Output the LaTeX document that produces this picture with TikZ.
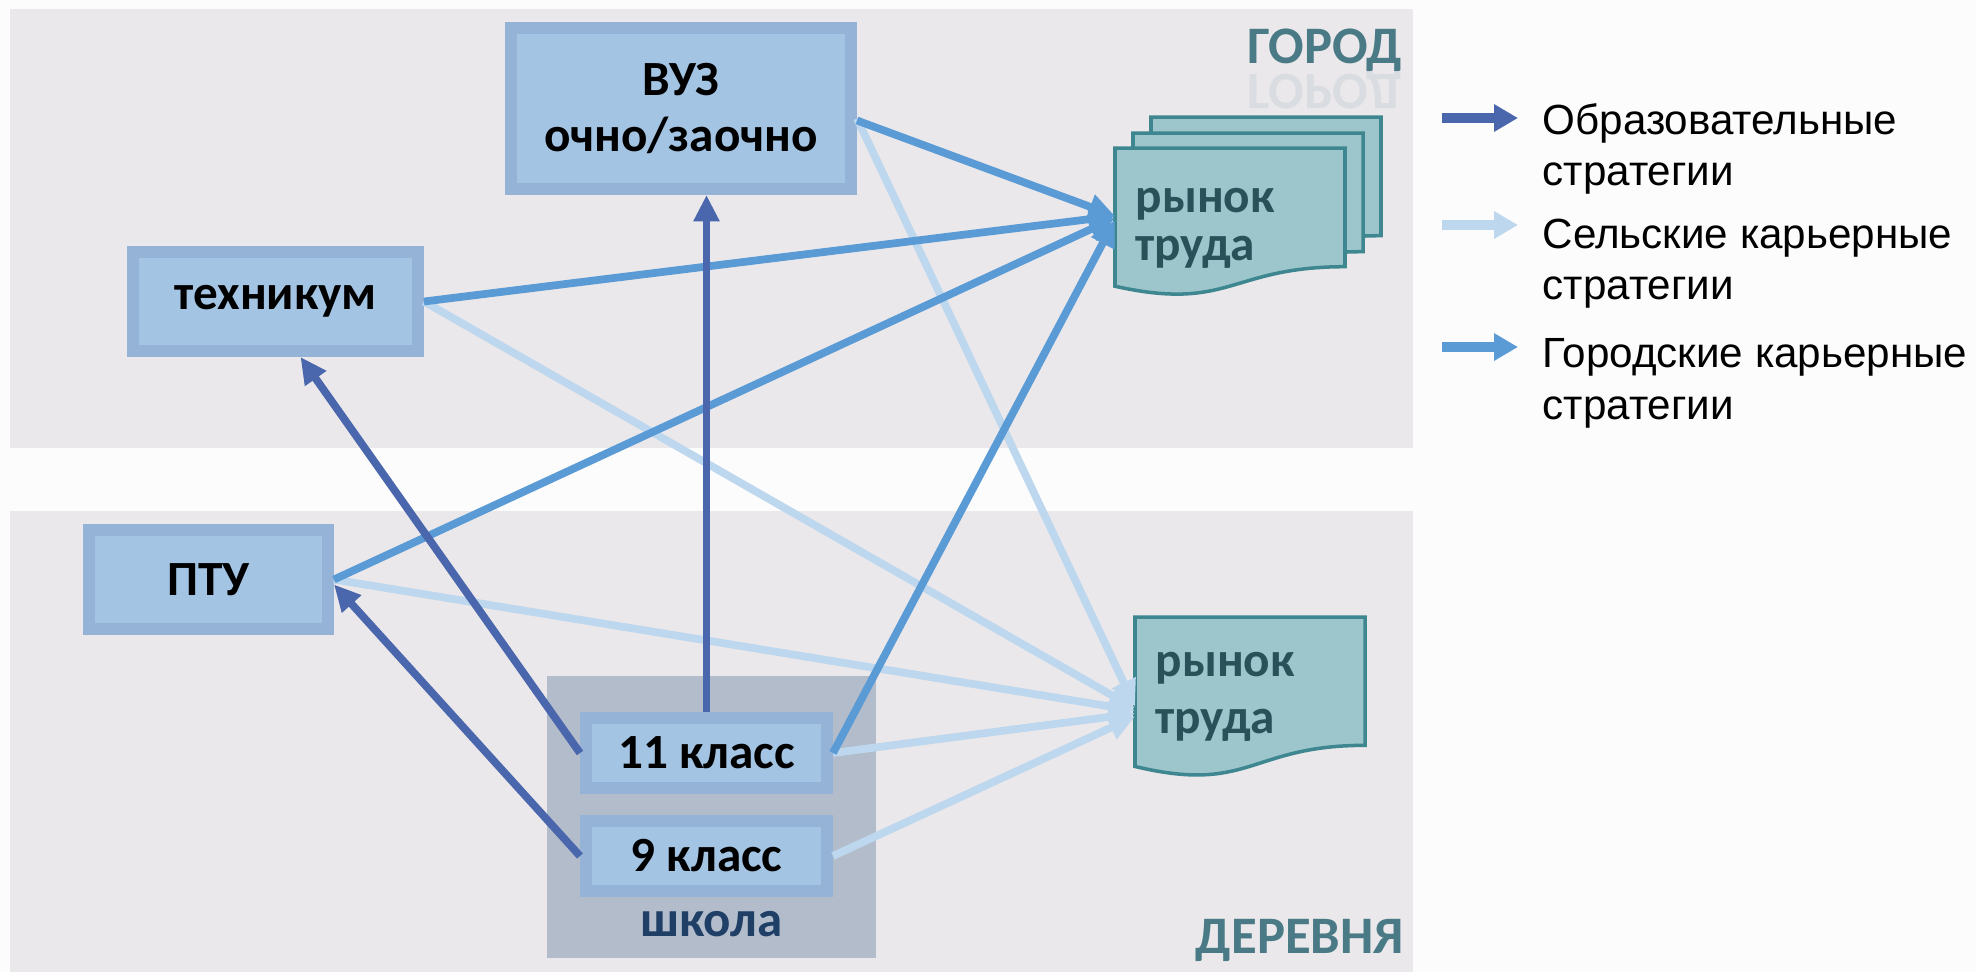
\documentclass[tikz,border=0pt]{standalone}
\usepackage{fontspec}
\setmainfont{Carlito}
\newfontfamily\legendfont{Liberation Sans}
\usetikzlibrary{arrows.meta, positioning, calc, shadows}
\definecolor{pagebg}{HTML}{FCFCFC}
\definecolor{zonebg}{HTML}{EAE8EB}
\definecolor{boxouter}{HTML}{95B3D7}
\definecolor{boxinner}{HTML}{A3C4E3}
\definecolor{boxshadow}{HTML}{8393A9}
\definecolor{schoolbg}{HTML}{B2BCCB}
\definecolor{schooltxt}{HTML}{1F3F66}
\definecolor{docfill}{HTML}{9DC6CC}
\definecolor{docedge}{HTML}{3E8790}
\definecolor{doctxt}{HTML}{28515A}
\definecolor{zonetxt}{HTML}{4A7A86}
\definecolor{eduline}{HTML}{4A66AC}
\definecolor{ruralline}{HTML}{BDD7EE}
\definecolor{cityline}{HTML}{5B9BD5}

\tikzset{
  stagebox/.style={draw=boxouter, line width=0.12cm, fill=boxinner, inner sep=0pt,
    font=\bfseries\fontsize{14}{16.2}\selectfont, align=center,
    drop shadow={shadow xshift=0.05cm, shadow yshift=-0.06cm, fill=boxshadow, opacity=1}},
  mkttext/.style={text=doctxt, align=left, inner xsep=0.2cm, inner ysep=0pt, anchor=west},
  zonelabel/.style={text=zonetxt, font=\bfseries\fontsize{15}{16}\selectfont, inner sep=0pt},
  legtext/.style={anchor=north west, inner sep=0pt, align=left, font=\legendfont\fontsize{12}{14.6}\selectfont},
  eduarrow/.style={draw=eduline, line width=2.2pt, -{Triangle[length=7.5pt, width=7pt]}},
  ruralarrow/.style={draw=ruralline, line width=2.2pt, -{Triangle[length=7.5pt, width=7pt]}},
  cityarrow/.style={draw=cityline, line width=2.2pt, -{Triangle[length=7.5pt, width=7pt]}},
  legarrow/.style={line width=2.8pt, -{Triangle[length=6.8pt, width=7.4pt]}}
}

% wavy sheet: top-left x, y, height
\newcommand{\docsheet}[3]{%
  \begin{scope}[shift={(#1,#2)}]
    \draw[docedge, fill=docfill, line width=1pt] (0,0) -- (2.3,0) -- (2.3,{-0.802*#3})
      .. controls (1.15,{-0.802*#3}) and (1.15,{-1.107*#3}) .. (0,{-0.934*#3}) -- cycle;
  \end{scope}}

\begin{document}
\begin{tikzpicture}
  \clip (0,0) rectangle (19.76,-9.72);
  \fill[pagebg] (0,0) rectangle (19.76,-9.72);

  % Zones
  \fill[zonebg] (0.10,-0.09) rectangle (14.13,-4.48);
  \fill[zonebg] (0.10,-5.11) rectangle (14.13,-9.72);
  \node[zonelabel] (city) at (13.25,-0.50) {ГОРОД};
  \node[zonelabel, yscale=-1, transform shape, opacity=0.1] (cityrefl) at (13.25,-0.88) {ГОРОД};
  \node[zonelabel] (village) at (13.00,-9.40) {ДЕРЕВНЯ};

  % Education levels
  \node[stagebox, minimum width=3.40cm, minimum height=1.61cm] (vuz) at (6.81,-1.085) {ВУЗ\\очно/заочно};
  \node[stagebox, minimum width=2.85cm, minimum height=0.99cm] (tech) at (2.755,-3.015) {техникум};
  \node[stagebox, minimum width=2.39cm, minimum height=0.99cm] (ptu) at (2.085,-5.795) {ПТУ};

  % School
  \node[fill=schoolbg, minimum width=3.29cm, minimum height=2.82cm, inner sep=0pt] (school) at (7.115,-8.17) {};
  \node[stagebox, minimum width=2.41cm, minimum height=0.70cm] (k11) at (7.065,-7.53) {11 класс};
  \node[stagebox, minimum width=2.41cm, minimum height=0.70cm, below=0.21cm of k11] (k9) {9 класс};
  \node[font=\bfseries\fontsize{14.5}{16}\selectfont, text=schooltxt, inner sep=0pt] (schoollbl) at (7.115,-9.24) {школа};

  % Labour markets
  \docsheet{11.51}{-1.17}{1.48}
  \docsheet{11.33}{-1.33}{1.48}
  \docsheet{11.15}{-1.48}{1.48}
  \docsheet{11.35}{-6.17}{1.60}
  \node[mkttext, font=\bfseries\fontsize{14}{13.6}\selectfont] (mktU) at (11.15,-2.28) {рынок\\труда};
  \node[mkttext, font=\bfseries\fontsize{14}{16.2}\selectfont] (mktL) at (11.35,-6.965) {рынок\\труда};

  % Rural career strategies
  \draw[ruralarrow] ($(vuz.east)+(0,-0.10)$) -- ($(mktL.west)+(0,-0.10)$);
  \draw[ruralarrow] (tech.east) -- ($(mktL.west)+(0,-0.12)$);
  \draw[ruralarrow] (ptu.east) -- ($(mktL.west)+(0,-0.14)$);
  \draw[ruralarrow] (k11.east) -- ($(mktL.west)+(0,-0.17)$);
  \draw[ruralarrow] (k9.east) -- ($(mktL.west)+(0,-0.20)$);

  % City career strategies
  \draw[cityarrow] ($(vuz.east)+(0,-0.12)$) -- ($(mktU.west)+(0,0.12)$);
  \draw[cityarrow] (tech.east) -- ($(mktU.west)+(0,0.12)$);
  \draw[cityarrow] (ptu.east) -- ($(mktU.west)+(0,0.10)$);
  \draw[cityarrow] (k11.east) -- ($(mktU.west)+(0,0.08)$);

  % Educational strategies
  \draw[eduarrow] (k11.north) -- (k11.north |- vuz.south);
  \draw[eduarrow] (k11.west) -- ($(tech.south)+(0.25,0)$);
  \draw[eduarrow] (k9.west) -- ($(ptu.east)+(0,-0.05)$);

  % Legend
  \coordinate (e1a) at (14.42,-1.18); \coordinate (e1b) at (15.18,-1.18);
  \coordinate (e2a) at (14.42,-2.25); \coordinate (e2b) at (15.18,-2.25);
  \coordinate (e3a) at (14.42,-3.47); \coordinate (e3b) at (15.18,-3.47);
  \draw[legarrow, eduline] (e1a) -- (e1b);
  \draw[legarrow, ruralline] (e2a) -- (e2b);
  \draw[legarrow, cityline] (e3a) -- (e3b);
  \node[legtext] (leg1) at (15.42,-1.03) {Образовательные\\стратегии};
  \node[legtext] (leg2) at (15.42,-2.18) {Сельские карьерные\\стратегии};
  \node[legtext] (leg3) at (15.42,-3.38) {Городские карьерные\\стратегии};
\end{tikzpicture}
\end{document}
